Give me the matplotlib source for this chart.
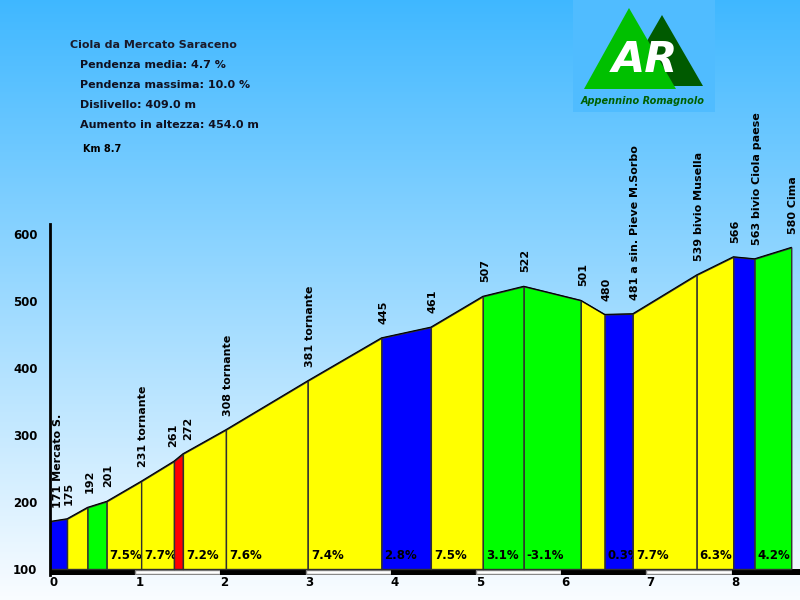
import numpy as np
import matplotlib.pyplot as plt
from matplotlib.patches import Polygon, Rectangle

# profile points (km, elevation m) and point names
km = [0.0, 0.20, 0.44, 0.665, 1.07, 1.455, 1.56, 2.065, 3.025, 3.89, 4.47,
      5.08, 5.56, 6.23, 6.51, 6.84, 7.59, 8.02, 8.27, 8.7]
elev = [171, 175, 192, 201, 231, 261, 272, 308, 381, 445, 461,
        507, 522, 501, 480, 481, 539, 566, 563, 580]
names = ['Mercato S.', '', '', '', 'tornante', '', '', 'tornante', 'tornante', '', '',
         '', '', '', '', 'a sin. Pieve M.Sorbo', 'bivio Musella', '', 'bivio Ciola paese', 'Cima']

# gradient of every segment, label shown only where there is room
pct = [2.0, 7.1, 4.0, 7.5, 7.7, 10.0, 7.2, 7.6, 7.4, 2.8, 7.5,
       3.1, -3.1, -7.5, 0.3, 7.7, 6.3, -1.2, 4.2]
pct_shown = [False, False, False, True, True, False, True, True, True, True, True,
             True, True, False, True, True, True, False, True]

title = 'Ciola da Mercato Saraceno'
info = ['Pendenza media: 4.7 %', 'Pendenza massima: 10.0 %',
        'Dislivello: 409.0 m', 'Aumento in altezza: 454.0 m']
length_txt = 'Km 8.7'


def seg_color(p):
    p = abs(p)
    if p < 3:
        return '#0000ff'
    if p < 5:
        return '#00ff00'
    if p < 9:
        return '#ffff00'
    return '#ff0000'


W, H = 800, 600
fig = plt.figure(figsize=(8, 6), dpi=100)

# sky gradient background
bg = fig.add_axes([0, 0, 1, 1], zorder=-5)
t = np.linspace(0, 1, 300)[:, None]
top = np.array([0.25, 0.72, 1.0])
bot = np.array([0.98, 0.99, 1.0])
grad = top * (1 - t[..., None]) + bot * t[..., None]
grad = np.repeat(grad, 2, axis=1)
bg.imshow(grad, aspect='auto', extent=[0, W, H, 0])
bg.set_xlim(0, W)
bg.set_ylim(H, 0)
bg.axis('off')

# logo
bg.add_patch(Rectangle((573, 0), 142, 112, facecolor='#50bcff', edgecolor='none'))
bg.add_patch(Polygon([(621, 86), (662, 15), (703, 86)], facecolor='#005a00', edgecolor='none'))
bg.add_patch(Polygon([(584, 89), (629, 8), (676, 89)], facecolor='#00c000', edgecolor='none'))
bg.text(645, 60, 'AR', color='white', fontsize=31, fontweight='bold', style='italic',
        ha='center', va='center')
bg.text(643, 101, 'Appennino Romagnolo', color='#006000', fontsize=7, fontweight='bold',
        style='italic', ha='center', va='center')

# info block
bg.text(70, 45, title, fontsize=8, fontweight='bold', ha='left', va='center', color='#1a1a2a')
for i, line in enumerate(info):
    bg.text(80, 65 + 20 * i, line, fontsize=8, fontweight='bold', ha='left', va='center',
            color='#101020')
bg.text(83, 149, length_txt, fontsize=7, fontweight='bold', ha='left', va='center')

# main profile axes
px_km = 85.2
px_m = 0.67
ax = fig.add_axes([50 / W, (H - 575) / H, 750 / W, (575 - 224) / H])
ax.patch.set_alpha(0)
ybot = 100 - 6 / px_m
ax.set_xlim(0, 750 / px_km)
ax.set_ylim(ybot, ybot + 351 / px_m)

for i in range(len(pct)):
    x0, x1 = km[i], km[i + 1]
    ax.fill_between([x0, x1], [elev[i], elev[i + 1]], 100, facecolor=seg_color(pct[i]),
                    edgecolor='#303030', linewidth=1, zorder=2)
    if pct_shown[i]:
        ax.annotate('%.1f%%' % pct[i], (x0, 100), xytext=(2.2, 9.5), textcoords='offset points',
                    fontsize=8.5, fontweight='bold', ha='left', va='center', zorder=2)

ax.plot(km, elev, color='black', linewidth=0.8, zorder=3)

nudge = {0: 5.8, 5: -0.7, 6: 3.6}
for i, (x, e, n) in enumerate(zip(km, elev, names)):
    lab = ('%d %s' % (e, n)).strip()
    ax.annotate(lab, (x, e), xytext=(nudge.get(i, 1.4), 10), textcoords='offset points',
                rotation=90, ha='center', va='bottom', fontsize=8, fontweight='bold',
                annotation_clip=False)

# km scale bar under the profile
for k in range(9):
    if k % 2 == 0:
        ax.bar(k, 100 - ybot - 0.5, bottom=ybot, width=1, align='edge', color='black',
               zorder=1)
    else:
        ax.bar(k, 100 - ybot - 2, bottom=ybot + 1, width=1, align='edge', color='white',
               edgecolor='#888888', linewidth=1, zorder=1)

for s in ['top', 'right', 'bottom']:
    ax.spines[s].set_visible(False)
ax.spines['left'].set_linewidth(2)
ax.spines['left'].set_zorder(4)

ax.set_yticks(range(100, 700, 100))
ax.set_xticks(range(0, 9))
ax.tick_params(axis='both', length=0, labelsize=8.5)
ax.tick_params(axis='y', pad=9)
ax.tick_params(axis='x', pad=1)
for lbl in ax.get_xticklabels() + ax.get_yticklabels():
    lbl.set_fontweight('bold')
for lbl in ax.get_xticklabels():
    lbl.set_horizontalalignment('left')

fig.savefig('out.png', dpi=100)
